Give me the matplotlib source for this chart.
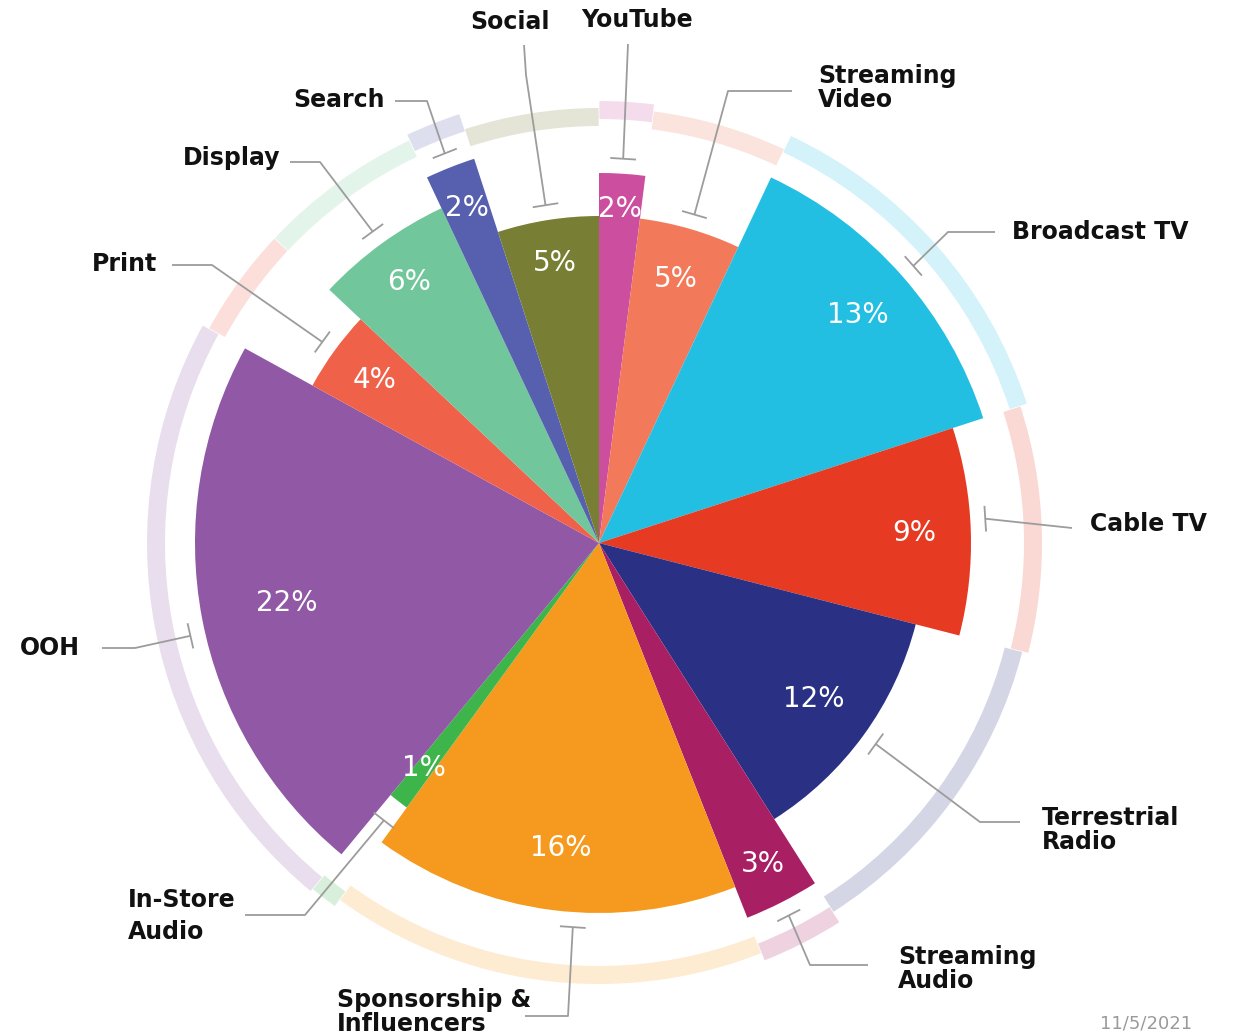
import numpy as np
import matplotlib.pyplot as plt
from matplotlib.patches import Wedge

# data, clockwise from 12 o'clock
categories = ["YouTube", "Streaming Video", "Broadcast TV", "Cable TV",
              "Terrestrial Radio", "Streaming Audio", "Sponsorship & Influencers",
              "In-Store Audio", "OOH", "Print", "Display", "Search", "Social"]
shares = [2, 5, 13, 9, 12, 3, 16, 1, 22, 4, 6, 2, 5]
reach = [370, 327, 404, 372, 327, 403, 370, 327, 404, 327, 370, 404, 327]
colors = ["#CC4E9E", "#F2795A", "#22BFE3", "#E63B22", "#2A3184", "#A81F64",
          "#F69A1F", "#3DB54A", "#9058A5", "#F0614A", "#72C69B", "#5660AE", "#787F35"]

# styling / layout
ring_r = [433, 426, 441, 434, 428, 440, 432, 440, 443, 436, 436, 442, 426]
pct_r = [335, 275, 345, 315, 266, 360, 307, 285, 318, 277, 323, 360, 283]
tick_nudge = [0, 0, 0, -1.8, 0, 0, -3.3, 0, -2, 0, 0, 0, 0]
CX, CY = 599, 543  # image pixel of the centre


def px(X, Y):
    return X - CX, CY - Y


def polar(a, r):
    t = np.radians(a)
    return r * np.sin(t), r * np.cos(t)


def lighten(c, f=0.2):
    rgb = np.array(plt.matplotlib.colors.to_rgb(c))
    return tuple(1 - f * (1 - rgb))


fig = plt.figure(figsize=(12.4, 10.36), dpi=100)
ax = fig.add_axes([0, 0, 1, 1])
ax.set_xlim(-CX, 1240 - CX)
ax.set_ylim(CY - 1036, CY)
ax.axis("off")

edges = np.concatenate([[0], np.cumsum(shares)]) * 3.6
mids = (edges[:-1] + edges[1:]) / 2

for i in range(len(shares)):
    a0, a1 = edges[i], edges[i + 1]
    ax.add_patch(Wedge((0, 0), reach[i], 90 - a1, 90 - a0, fc=colors[i], ec="none"))
    ax.add_patch(Wedge((0, 0), ring_r[i] + 9, 90 - a1 + 0.05, 90 - a0 - 0.05, width=18,
                       fc=lighten(colors[i]), ec="none"))
    x, y = polar(mids[i], pct_r[i])
    ax.text(x, y, f"{shares[i]}%", color="white", fontsize=20, ha="center", va="center")

# labels with leader lines: (text lines, text anchor, ha, line start, elbow)
labels = [
    (["YouTube"], (637, 20), "center", (628, 44), None),
    (["Streaming", "Video"], (818, 76), "left", (792, 91), (728, 91)),
    (["Broadcast TV"], (1012, 232), "left", (995, 232), (948, 232)),
    (["Cable TV"], (1090, 524), "left", (1072, 528), None),
    (["Terrestrial", "Radio"], (1042, 818), "left", (1020, 822), (980, 822)),
    (["Streaming", "Audio"], (898, 957), "left", (868, 965), (810, 965)),
    (["Sponsorship &", "Influencers"], (337, 1000), "left", (525, 1016), (568, 1016)),
    (["In-Store", "Audio"], (128, 900), "left", (245, 915), (305, 915)),
    (["OOH"], (20, 648), "left", (102, 648), (135, 648)),
    (["Print"], (157, 264), "right", (172, 265), (212, 265)),
    (["Display"], (280, 158), "right", (290, 162), (320, 162)),
    (["Search"], (385, 100), "right", (395, 101), (427, 101)),
    (["Social"], (510, 22), "center", (524, 45), (526, 75)),
]
line_gap = {"In-Store": 32}

gray = "#9c9c9c"
for i, (lines, (tx, ty), ha, start, elbow) in enumerate(labels):
    step = line_gap.get(lines[0], 24)
    for k, s in enumerate(lines):
        ax.text(*px(tx, ty + k * step), s, fontsize=17, fontweight="bold",
                color="#111111", ha=ha, va="center")
    a = mids[i] + tick_nudge[i]
    r = reach[i] + 15
    if categories[i] == "In-Store Audio":
        r = reach[i] + 24
    tip = polar(a, r)
    pts = [px(*start)] + ([px(*elbow)] if elbow else []) + [tip]
    xs, ys = zip(*pts)
    ax.plot(xs, ys, color=gray, lw=1.3, solid_capstyle="butt")
    # tangential end bar
    t = np.radians(a)
    tx_, ty_ = np.cos(t), -np.sin(t)
    ax.plot([tip[0] - 12 * tx_, tip[0] + 12 * tx_], [tip[1] - 12 * ty_, tip[1] + 12 * ty_],
            color=gray, lw=1.3)

# date stamp in the bottom corner
ax.text(*px(1100, 1024), "11/5/2021", fontsize=13, color="#9a9a9a", ha="left", va="center")

fig.savefig("out.png", dpi=100)
